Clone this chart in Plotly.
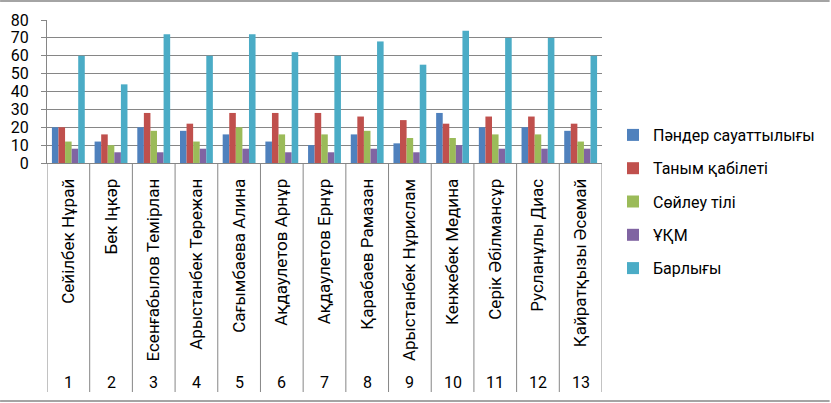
import plotly.graph_objects as go

names = ["Сейілбек Нұрай", "Бек Іңкәр", "Есенғабылов Темірлан", "Арыстанбек Төрежан",
         "Сағымбаева Алина", "Ақдаулетов Арнұр", "Ақдаулетов Ернұр", "Қарабаев Рамазан",
         "Арыстанбек Нұрислам", "Кенжебек Медина", "Серік Әбілмансұр", "Русланұлы Диас",
         "Қайратқызы Әсемай"]
numbers = ["1", "2", "3", "4", "5", "6", "7", "8", "9", "10", "11", "12", "13"]

series_names = ["Пәндер сауаттылығы", "Таным қабілеті", "Сөйлеу тілі", "ҰҚМ", "Барлығы"]
pander = [20, 12, 20, 18, 16, 12, 10, 16, 11, 28, 20, 20, 18]
tanym = [20, 16, 28, 22, 28, 28, 28, 26, 24, 22, 26, 26, 22]
soileu = [12, 10, 18, 12, 20, 16, 16, 18, 14, 14, 16, 16, 12]
ukm = [8, 6, 6, 8, 8, 6, 6, 8, 6, 10, 8, 8, 8]
barlygy = [60, 44, 72, 60, 72, 62, 60, 68, 55, 74, 70, 70, 60]
series_values = [pander, tanym, soileu, ukm, barlygy]
colors = ["#4F81BD", "#C0504D", "#9BBB59", "#8064A2", "#4BACC6"]

W, H = 831, 403
L, R, T, B = 47, 228, 20, 240
pw = W - L - R
ph = H - T - B
FONT = "Roboto, Noto Sans, DejaVu Sans"
GRID = "#868686"

fig = go.Figure()
xs = list(range(len(names)))
for i, (nm, vals, c) in enumerate(zip(series_names, series_values, colors)):
    fig.add_trace(go.Bar(x=xs, y=vals, name=nm, marker=dict(color=c, line=dict(width=0)),
                         legendgroup=f"g{i}"))

shapes = []
# category dividers
for k in range(len(names) + 1):
    shapes.append(dict(type="line", xref="x", yref="paper", x0=k - 0.5, x1=k - 0.5,
                       y0=0, y1=-(392 - (T + ph)) / ph, line=dict(color=GRID, width=1)))
# outer chart frame lines (top and bottom)
for yy in [1, H - 2]:
    shapes.append(dict(type="line", xref="paper", yref="paper",
                       x0=-L / pw, x1=(W - L) / pw,
                       y0=(H - B - yy) / ph, y1=(H - B - yy) / ph,
                       line=dict(color=GRID, width=1.5)))

annotations = []
for k, n in enumerate(numbers):
    annotations.append(dict(x=k, y=0, xref="x", yref="paper", text=n, showarrow=False,
                            yshift=-(382 - (T + ph)), yanchor="middle",
                            font=dict(family=FONT, size=16, color="#000")))

fig.update_layout(
    width=W, height=H,
    margin=dict(l=L, r=R, t=T, b=B),
    paper_bgcolor="white", plot_bgcolor="white",
    barmode="group", bargap=0.23, bargroupgap=0,
    shapes=shapes, annotations=annotations,
    font=dict(family=FONT, size=16, color="#000"),
    showlegend=True,
    legend=dict(x=(613 - L) / pw, xanchor="left", y=(T + ph - 118) / ph, yanchor="top",
                font=dict(family=FONT, size=16, color="#000"), maxheight=300,
                tracegroupgap=9.5, bgcolor="rgba(0,0,0,0)"),
    xaxis=dict(range=[-0.5, len(names) - 0.5], tickmode="array", tickvals=xs, ticktext=names,
               tickangle=-90, showgrid=False, showline=True, linecolor=GRID, linewidth=1,
               ticks="", ticklabelstandoff=8, zeroline=False,
               tickfont=dict(family=FONT, size=17, color="#000")),
    yaxis=dict(range=[0, 80], dtick=10, showgrid=True, gridcolor=GRID, gridwidth=1,
               showline=True, linecolor=GRID, linewidth=1, ticks="outside", ticklen=5,
               tickcolor=GRID, zeroline=False, ticklabelstandoff=9,
               tickfont=dict(family=FONT, size=16, color="#000")),
)

fig.write_html("out.html", config={"displayModeBar": False},
               post_script="document.body.style.margin='0';document.body.style.overflow='hidden';")
